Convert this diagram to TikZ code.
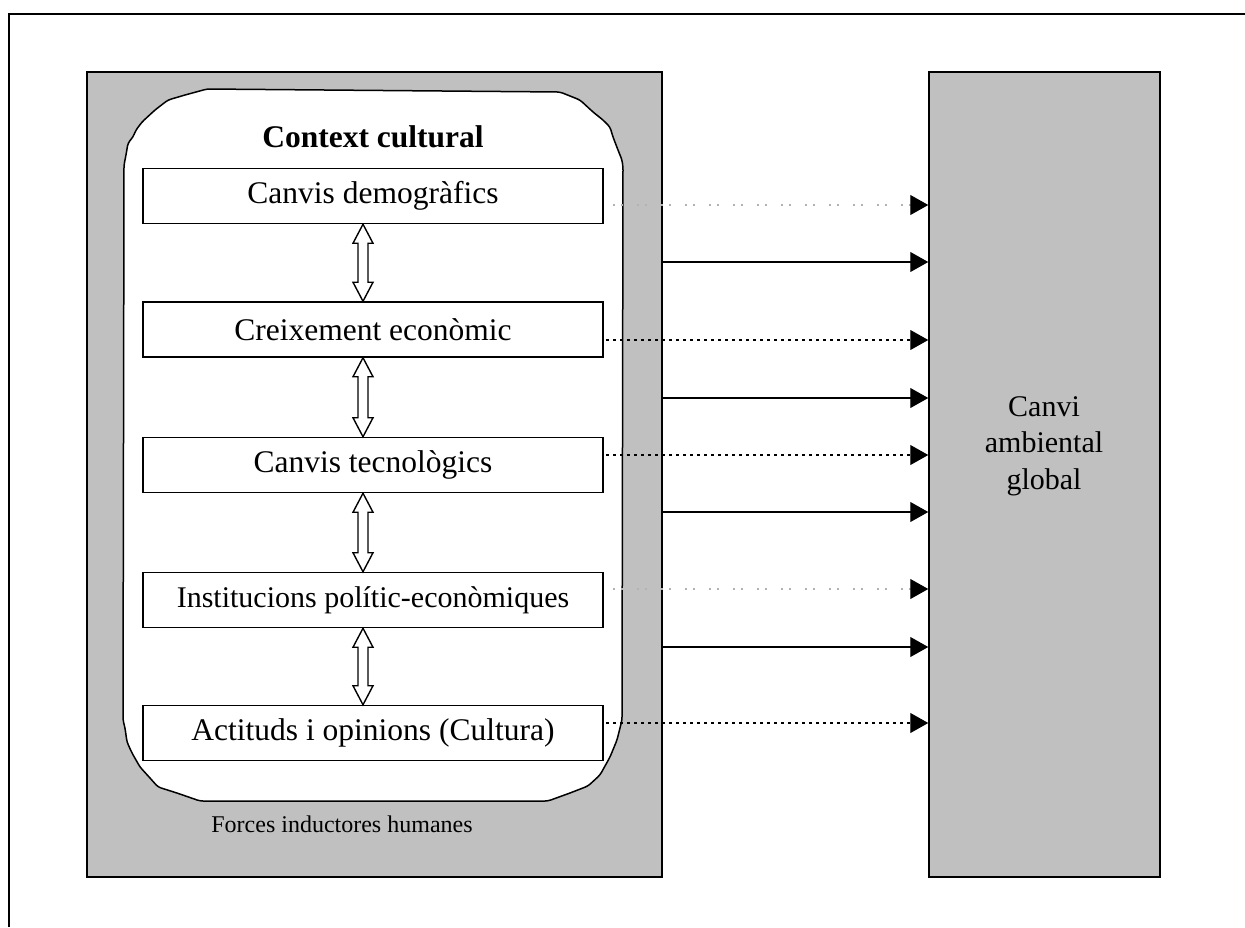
\documentclass[tikz,border=0pt]{standalone}
\usepackage{fontspec}
\setmainfont{Liberation Serif}
\usetikzlibrary{arrows.meta,calc}
\definecolor{panel}{RGB}{192,192,192}
\tikzset{
  panelbox/.style={draw=black, line width=1.5pt, fill=panel, inner sep=0pt},
  stagebox/.style={draw=black, line width=1.5pt, fill=white, inner sep=0pt,
    minimum width=460pt, minimum height=55pt,
    font=\fontsize{31.5}{36}\selectfont},
  hollowarrow/.style={draw=black, line width=1.4pt, fill=white, line join=miter},
  bigtip/.tip={Triangle[length=18pt,width=20pt,line width=1pt,color=black,fill=black]},
  solidarrow/.style={line width=1.5pt, -bigtip},
  darkdots/.style={line width=2pt, dash pattern=on 3pt off 4pt, -bigtip},
  lightdots/.style={line width=1.2pt, draw=black!30,
    dash pattern=on 2pt off 6pt on 2pt off 14pt, -bigtip}
}
% two-headed hollow arrow from the foot of one box to the head of the next
\newcommand{\linkarrow}[2]{%
  \path[hollowarrow]
    ($(#1.south)+(-10,0)$) -- ($(#1.south)+(0,19)$) -- ($(#1.south)+(-5,19)$)
    -- ($(#2.north)+(-5,-19)$) -- ($(#2.north)+(0,-19)$) -- ($(#2.north)+(-10,0)$)
    -- ($(#2.north)+(-20,-19)$) -- ($(#2.north)+(-15,-19)$)
    -- ($(#1.south)+(-15,19)$) -- ($(#1.south)+(-20,19)$) -- cycle;}
\begin{document}
\begin{tikzpicture}[x=1pt,y=-1pt]
\useasboundingbox (0,0) rectangle (1245,927);

% open frame
\draw[line width=1.5pt] (9,927) -- (9,14) -- (1245,14);

% the two grey panels
\node[panelbox, minimum width=575pt, minimum height=805pt] (lb) at (374.5,474.5) {};
\node[panelbox, minimum width=231pt, minimum height=805pt] (rb) at (1044.5,474.5) {};

% hand-drawn white field of the cultural context
\draw[line width=1.5pt, fill=white, rounded corners=3pt]
  (207,89) -- (185,95) -- (168,100) -- (155,110) -- (142,122) -- (136,130)
  -- (133,137) -- (128,143) -- (126,155) -- (124,165)
  -- (123,720) -- (125,728) -- (127,742) -- (132,753) -- (140,767)
  -- (150,778) -- (158,787) -- (177,793) -- (200,801)
  -- (548,801) -- (570,793) -- (588,786) -- (600,775) -- (610,757)
  -- (617,740) -- (620,728) -- (622,720)
  -- (623,167) -- (622,160) -- (618,150) -- (613,137) -- (610,127)
  -- (603,120) -- (593,112) -- (580,100) -- (560,92) -- cycle;

\node[anchor=base, font=\fontsize{31.5}{36}\selectfont\bfseries] (ctx) at (373,147) {Context cultural};

% the five driving forces
\node[stagebox] (b1) at (373,196) {Canvis demogràfics};
\node[stagebox] (b2) at (373,329.5) {Creixement econòmic};
\node[stagebox] (b3) at (373,465) {Canvis tecnològics};
\node[stagebox, font=\fontsize{30}{36}\selectfont] (b4) at (373,600) {Institucions polític-econòmiques};
\node[stagebox] (b5) at (373,733) {Actituds i opinions (Cultura)};

\linkarrow{b1}{b2}
\linkarrow{b2}{b3}
\linkarrow{b3}{b4}
\linkarrow{b4}{b5}

\node[anchor=base, font=\fontsize{24}{28}\selectfont] (forces) at (342,832) {Forces inductores humanes};

\node[align=center, font=\fontsize{30}{36.5}\selectfont] (rbl) at (1044,446) {Canvi\\ambiental\\global};

% connectors towards global change
\coordinate (l1) at (613,205);
\coordinate (s1) at (lb.east |- 0,262);
\coordinate (d1) at (606,340);
\coordinate (s2) at (lb.east |- 0,398);
\coordinate (d2) at (606,455);
\coordinate (s3) at (lb.east |- 0,512);
\coordinate (l2) at (613,589);
\coordinate (s4) at (lb.east |- 0,647);
\coordinate (d3) at (606,723);

\draw[lightdots] (l1) -- (l1 -| rb.west);
\draw[solidarrow] (s1) -- (s1 -| rb.west);
\draw[darkdots] (d1) -- (d1 -| rb.west);
\draw[solidarrow] (s2) -- (s2 -| rb.west);
\draw[darkdots] (d2) -- (d2 -| rb.west);
\draw[solidarrow] (s3) -- (s3 -| rb.west);
\draw[lightdots] (l2) -- (l2 -| rb.west);
\draw[solidarrow] (s4) -- (s4 -| rb.west);
\draw[darkdots] (d3) -- (d3 -| rb.west);
\end{tikzpicture}
\end{document}
